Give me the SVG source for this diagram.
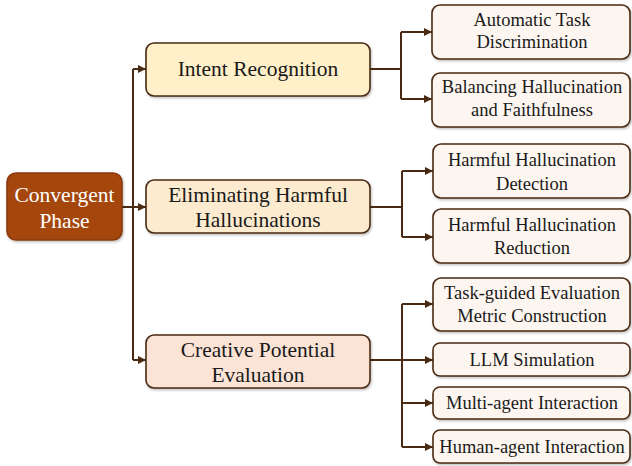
<svg xmlns="http://www.w3.org/2000/svg" width="632" height="466" viewBox="0 0 632 466">
<defs>
<marker id="arr" viewBox="0 0 10 10" refX="10" refY="5" markerWidth="9" markerHeight="8" markerUnits="userSpaceOnUse" orient="auto">
<path d="M0,0 L10,5 L0,10 z" fill="#4a2a12"/>
</marker>
<filter id="sh" x="-5%" y="-10%" width="115%" height="130%">
<feDropShadow dx="1" dy="1.5" stdDeviation="1" flood-color="#000" flood-opacity="0.25"/>
</filter>
</defs>
<style>
.c{fill:none;stroke:#4a2a12;stroke-width:2}
.a{fill:none;stroke:#4a2a12;stroke-width:2;marker-end:url(#arr)}
rect{stroke:#4a2a12;stroke-width:1.6;filter:url(#sh)}
.root{fill:#a5460f;stroke:#8a3a10}
.l1a{fill:#fff0c9}
.l1b{fill:#fdebd0}
.l1c{fill:#fbe3d6}
.leaf{fill:#fdf6f0}
text{font-family:'Liberation Serif',Tinos,'Times New Roman',serif;text-anchor:middle;fill:#1a1a1a}
.t1{font-size:21.5px}
.t2{font-size:18.5px}
.tr{font-size:21.5px;fill:#fff}
</style>
<g id="connectors">
<path class="c" d="M122,207 H133"/>
<path class="c" d="M133,69 V360"/>
<path class="a" d="M133,69 H146"/>
<path class="a" d="M133,207 H146"/>
<path class="a" d="M133,360 H146"/>
<path class="c" d="M370,69 H401"/>
<path class="c" d="M401,32 V99"/>
<path class="a" d="M401,32 H432"/>
<path class="a" d="M401,99 H432"/>
<path class="c" d="M370,207 H402"/>
<path class="c" d="M402,171 V237"/>
<path class="a" d="M402,171 H433"/>
<path class="a" d="M402,237 H433"/>
<path class="c" d="M370,360 H402"/>
<path class="c" d="M402,304 V447"/>
<path class="a" d="M402,304 H433"/>
<path class="a" d="M402,360 H433"/>
<path class="a" d="M402,403 H433"/>
<path class="a" d="M402,447 H433"/>
</g>
<g id="convergent">
<rect class="root" x="7" y="173" width="115" height="67" rx="9"/>
<text class="tr" x="64.5" y="202">Convergent</text>
<text class="tr" x="64.5" y="228">Phase</text>
</g>
<g id="intent">
<rect class="l1a" x="146" y="43" width="224" height="53" rx="8"/>
<text class="t1" x="258" y="76">Intent Recognition</text>
</g>
<g id="eliminating">
<rect class="l1b" x="146" y="180" width="224" height="53" rx="8"/>
<text class="t1" x="258" y="202">Eliminating Harmful</text>
<text class="t1" x="258" y="227">Hallucinations</text>
</g>
<g id="creative">
<rect class="l1c" x="146" y="335" width="224" height="53" rx="8"/>
<text class="t1" x="258" y="357">Creative Potential</text>
<text class="t1" x="258" y="382">Evaluation</text>
</g>
<g id="automatic">
<rect class="leaf" x="432" y="5" width="198" height="54" rx="8"/>
<text class="t2" x="532" y="26">Automatic Task</text>
<text class="t2" x="532" y="48">Discrimination</text>
</g>
<g id="balancing">
<rect class="leaf" x="432" y="73" width="198" height="54" rx="8"/>
<text class="t2" x="532" y="93">Balancing Hallucination</text>
<text class="t2" x="532" y="116">and Faithfulness</text>
</g>
<g id="detection">
<rect class="leaf" x="433" y="144" width="197" height="54" rx="8"/>
<text class="t2" x="532" y="166">Harmful Hallucination</text>
<text class="t2" x="532" y="190">Detection</text>
</g>
<g id="reduction">
<rect class="leaf" x="433" y="209" width="197" height="54" rx="8"/>
<text class="t2" x="532" y="231">Harmful Hallucination</text>
<text class="t2" x="532" y="254">Reduction</text>
</g>
<g id="taskguided">
<rect class="leaf" x="433" y="278" width="197" height="53" rx="8"/>
<text class="t2" x="532" y="299">Task-guided Evaluation</text>
<text class="t2" x="532" y="322">Metric Construction</text>
</g>
<g id="llm">
<rect class="leaf" x="433" y="343" width="197" height="33" rx="7"/>
<text class="t2" x="532" y="366">LLM Simulation</text>
</g>
<g id="multiagent">
<rect class="leaf" x="433" y="387" width="197" height="32" rx="7"/>
<text class="t2" x="532" y="409">Multi-agent Interaction</text>
</g>
<g id="humanagent">
<rect class="leaf" x="433" y="430" width="197" height="33" rx="7"/>
<text class="t2" x="532" y="453">Human-agent Interaction</text>
</g>
</svg>
